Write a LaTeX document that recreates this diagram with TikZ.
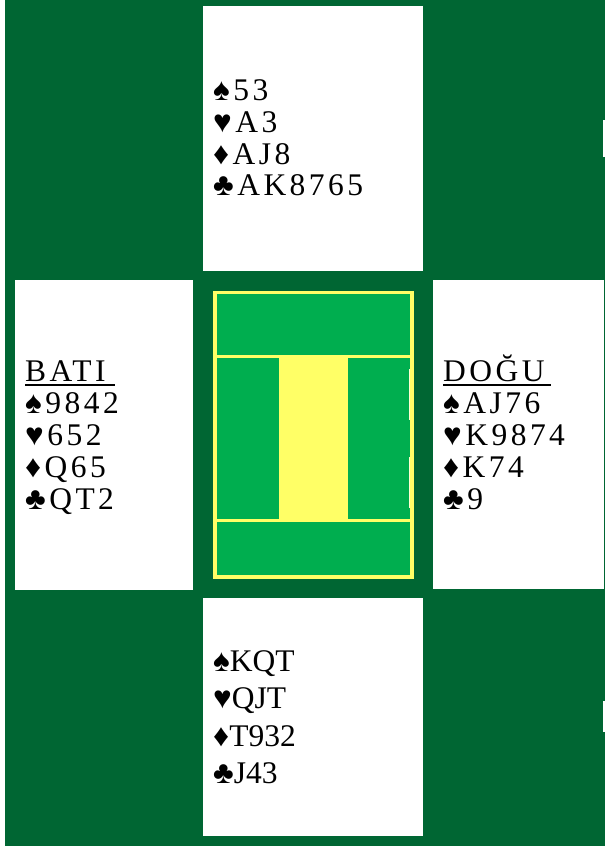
\documentclass[tikz,border=0pt]{standalone}
\usepackage{fontspec}
\setmainfont{Liberation Serif}
\newfontfamily\spacedfont[LetterSpace=11]{Liberation Serif}
\definecolor{felt}{HTML}{006633}
\definecolor{tablegreen}{HTML}{00AE4F}
\definecolor{tableyellow}{HTML}{FFFF66}
\tikzset{
  handbox/.style={fill=white},
  spacedhand/.style={anchor=base west, inner sep=0pt, font=\fontsize{31.5}{32}\spacedfont},
  plainhand/.style={anchor=base west, inner sep=0pt, font=\fontsize{31.5}{37.5}\selectfont},
}
\begin{document}
\begin{tikzpicture}[x=1pt,y=-1pt]
\useasboundingbox (0,0) rectangle (605,846);
\fill[white] (0,0) rectangle (605,846);
\fill[felt] (5,0) rectangle (605,846);
% hand boxes
\fill[handbox] (203,6) rectangle (423,271);
\fill[handbox] (15,280) rectangle (193,590);
\fill[handbox] (433,280) rectangle (604,589);
\fill[handbox] (203,598) rectangle (423,836);
\fill[white] (603,120) rectangle (604.5,157);
\fill[white] (603,701) rectangle (604.5,732);
% centre table
\fill[tableyellow] (213,291) rectangle (414,579);
\fill[tablegreen] (217,294) rectangle (410,355);
\fill[tablegreen] (217,358) rectangle (279,519);
\fill[tablegreen] (348,358) rectangle (410,519);
\fill[tablegreen] (217,522) rectangle (410,575);
\fill[white!70!tableyellow] (409,369) rectangle (410,420);
\fill[white!70!tableyellow] (409,457) rectangle (410,508);
% North
\node[spacedhand] (ns) at (213,100) {♠53};
\node[spacedhand] (nh) at (213,132) {♥A3};
\node[spacedhand] (nd) at (213,164) {♦AJ8};
\node[spacedhand] (nc) at (213,195) {♣AK8765};
% West
\node[spacedhand] (westname) at (25,381) {BATI};
\draw[line width=2pt] ([yshift=-3.5pt]westname.base west) -- ++(90,0);
\node[spacedhand] (ws) at (25,413) {♠9842};
\node[spacedhand] (wh) at (25,445) {♥652};
\node[spacedhand] (wd) at (25,477) {♦Q65};
\node[spacedhand] (wc) at (25,509) {♣QT2};
% East
\node[spacedhand] (eastname) at (443,381) {DOĞU};
\draw[line width=2pt] ([yshift=-3.5pt]eastname.base west) -- ++(108,0);
\node[spacedhand] (es) at (443,413) {♠AJ76};
\node[spacedhand] (eh) at (443,445) {♥K9874};
\node[spacedhand] (ed) at (443,477) {♦K74};
\node[spacedhand] (ec) at (443,509) {♣9};
% South
\node[plainhand] (ss) at (213,671) {♠KQT};
\node[plainhand] (sh) at (213,708) {♥QJT};
\node[plainhand] (sd) at (213,746) {♦T932};
\node[plainhand] (sc) at (213,783) {♣J43};
\end{tikzpicture}
\end{document}
